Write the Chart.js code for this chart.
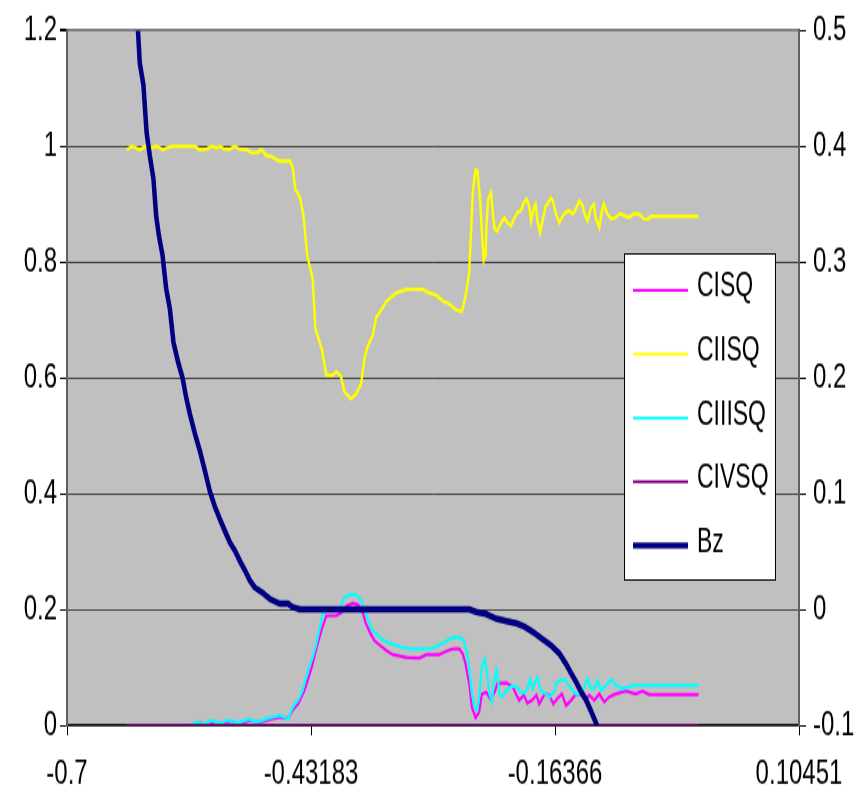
<!DOCTYPE html>
<html>
<head>
<meta charset="utf-8">
<script src="https://cdn.jsdelivr.net/npm/chart.js@4.4.1/dist/chart.umd.min.js"></script>
<style>
  html, body { margin: 0; padding: 0; background: #fff; }
</style>
</head>
<body>
<!-- drawn at 861x560 and shown stretched to 861x801, like the original picture -->
<canvas id="chart" width="861" height="560" style="display:block;width:861px;height:801px"></canvas>
<script>
const xTicks = [-0.7, -0.43183, -0.16366, 0.10451];
const leftTicks = [0, 0.2, 0.4, 0.6, 0.8, 1, 1.2];
const rightTicks = [-0.1, 0, 0.1, 0.2, 0.3, 0.4, 0.5];

const seriesNames = ['CISQ', 'CIISQ', 'CIIISQ', 'CIVSQ', 'Bz'];

const cisqX = [-0.634, -0.5595, -0.554, -0.546, -0.538, -0.530, -0.521, -0.510, -0.499, -0.488, -0.477, -0.466,
  -0.457, -0.452, -0.446, -0.439, -0.431, -0.426, -0.420, -0.415, -0.404, -0.398, -0.393, -0.386, -0.380,
  -0.375, -0.372, -0.367, -0.362, -0.356, -0.349, -0.342, -0.327, -0.313, -0.305, -0.291, -0.283, -0.276,
  -0.269, -0.265, -0.262, -0.258, -0.255, -0.251, -0.247, -0.244, -0.239, -0.235, -0.230, -0.227, -0.217,
  -0.210, -0.206, -0.203, -0.198, -0.194, -0.189, -0.184, -0.181, -0.175, -0.170, -0.1655, -0.161, -0.156,
  -0.1515, -0.146, -0.1406, -0.135, -0.130, -0.126, -0.1205, -0.115, -0.1095, -0.104, -0.097, -0.086,
  -0.075, -0.0675, -0.060, -0.006];
const cisqY = [0, 0, 0.004, 0.001, 0.006, 0.002, 0.007, 0.003, 0.008, 0.005, 0.010, 0.014,
  0.012, 0.026, 0.037, 0.060, 0.100, 0.132, 0.166, 0.189, 0.189, 0.195, 0.206, 0.211, 0.208,
  0.195, 0.178, 0.160, 0.146, 0.138, 0.129, 0.122, 0.117, 0.116, 0.122, 0.122, 0.128, 0.132,
  0.132, 0.123, 0.106, 0.072, 0.031, 0.013, 0.023, 0.054, 0.057, 0.046, 0.057, 0.072, 0.073,
  0.066, 0.052, 0.043, 0.052, 0.038, 0.043, 0.052, 0.037, 0.054, 0.052, 0.037, 0.046, 0.054,
  0.034, 0.043, 0.054, 0.052, 0.043, 0.052, 0.043, 0.054, 0.040, 0.049, 0.054, 0.059,
  0.054, 0.059, 0.053, 0.053];

const ciisqX = [-0.634, -0.629, -0.625, -0.620, -0.614, -0.609, -0.601, -0.595, -0.589, -0.584, -0.560,
  -0.554, -0.546, -0.541, -0.535, -0.532, -0.527, -0.521, -0.516, -0.510, -0.502, -0.497, -0.492, -0.486,
  -0.481, -0.474, -0.468, -0.455, -0.452, -0.449, -0.444, -0.440, -0.436, -0.430, -0.427, -0.420, -0.415,
  -0.408, -0.404, -0.399, -0.395, -0.388, -0.383, -0.377, -0.373, -0.370, -0.364, -0.360, -0.356, -0.349,
  -0.338, -0.327, -0.309, -0.302, -0.294, -0.287, -0.280, -0.272, -0.266, -0.263, -0.260, -0.258, -0.256,
  -0.254, -0.251, -0.249, -0.246, -0.244, -0.242, -0.240, -0.239, -0.237, -0.234, -0.232, -0.230, -0.227,
  -0.223, -0.219, -0.216, -0.212, -0.208, -0.205, -0.201, -0.198, -0.195, -0.192, -0.190, -0.187, -0.185,
  -0.183, -0.180, -0.177, -0.174, -0.172, -0.168, -0.166, -0.163, -0.159, -0.155, -0.152, -0.148, -0.144,
  -0.141, -0.137, -0.134, -0.131, -0.128, -0.124, -0.121, -0.119, -0.115, -0.112, -0.110, -0.106, -0.102,
  -0.097, -0.092, -0.088, -0.082, -0.077, -0.071, -0.066, -0.062, -0.058, -0.042, -0.006];
const ciisqY = [0.994, 1.0, 0.998, 0.994, 1.0, 0.997, 1.0, 0.994, 0.998, 1.0, 1.0,
  0.994, 0.996, 1.0, 0.997, 1.0, 0.995, 0.995, 1.0, 0.995, 0.994, 0.989, 0.989, 0.994,
  0.984, 0.982, 0.975, 0.975, 0.965, 0.925, 0.912, 0.880, 0.811, 0.772, 0.685, 0.650, 0.605,
  0.605, 0.611, 0.603, 0.576, 0.564, 0.571, 0.588, 0.633, 0.653, 0.674, 0.705, 0.714, 0.732,
  0.747, 0.753, 0.753, 0.747, 0.743, 0.733, 0.728, 0.717, 0.715, 0.734, 0.760, 0.782, 0.851,
  0.920, 0.960, 0.958, 0.909, 0.851, 0.803, 0.812, 0.863, 0.909, 0.920, 0.886, 0.857, 0.854,
  0.868, 0.877, 0.868, 0.863, 0.877, 0.886, 0.889, 0.903, 0.909, 0.897, 0.872, 0.894, 0.900,
  0.872, 0.851, 0.874, 0.897, 0.900, 0.911, 0.906, 0.886, 0.868, 0.880, 0.886, 0.889, 0.883,
  0.891, 0.906, 0.900, 0.883, 0.872, 0.894, 0.900, 0.877, 0.860, 0.889, 0.900, 0.883, 0.875,
  0.877, 0.884, 0.881, 0.877, 0.884, 0.883, 0.875, 0.874, 0.879, 0.879, 0.879];

const ciiisqX = [-0.634, -0.565, -0.557, -0.549, -0.541, -0.532, -0.523, -0.512, -0.501, -0.490, -0.479, -0.466,
  -0.461, -0.457, -0.452, -0.446, -0.441, -0.435, -0.430, -0.426, -0.422, -0.419, -0.415, -0.406, -0.400,
  -0.395, -0.389, -0.382, -0.3765, -0.373, -0.369, -0.3655, -0.360, -0.3545, -0.347, -0.340, -0.331, -0.320,
  -0.3016, -0.294, -0.287, -0.2815, -0.276, -0.269, -0.264, -0.2606, -0.2577, -0.255, -0.252, -0.249,
  -0.2467, -0.244, -0.241, -0.2387, -0.2357, -0.233, -0.231, -0.228, -0.2266, -0.2247, -0.222, -0.217,
  -0.212, -0.2064, -0.201, -0.197, -0.194, -0.191, -0.188, -0.185, -0.1827, -0.180, -0.177, -0.1735,
  -0.169, -0.164, -0.162, -0.157, -0.1515, -0.146, -0.1406, -0.135, -0.1314, -0.128, -0.124, -0.1205,
  -0.117, -0.113, -0.1076, -0.102, -0.097, -0.0894, -0.078, -0.006];
const ciiisqY = [0, 0, 0.005, 0.002, 0.008, 0.003, 0.009, 0.004, 0.010, 0.006, 0.012, 0.017,
  0.014, 0.010, 0.031, 0.043, 0.060, 0.095, 0.117, 0.140, 0.169, 0.192, 0.198, 0.198, 0.203,
  0.221, 0.226, 0.225, 0.215, 0.198, 0.181, 0.166, 0.158, 0.149, 0.143, 0.139, 0.134, 0.132,
  0.132, 0.136, 0.142, 0.147, 0.151, 0.153, 0.147, 0.126, 0.095, 0.054, 0.031, 0.026,
  0.054, 0.100, 0.115, 0.095, 0.054, 0.040, 0.072, 0.095, 0.083, 0.054, 0.049, 0.060,
  0.067, 0.067, 0.057, 0.056, 0.063, 0.080, 0.063, 0.077, 0.083, 0.063, 0.057, 0.054,
  0.049, 0.060, 0.074, 0.079, 0.077, 0.063, 0.054, 0.054, 0.066, 0.080, 0.063, 0.063,
  0.077, 0.060, 0.069, 0.079, 0.069, 0.063, 0.069, 0.069];

const civsqX = [-0.634, -0.006];
const civsqY = [0, 0];

const bzX = [-0.624, -0.622, -0.620, -0.616, -0.6125, -0.609, -0.605, -0.602, -0.599, -0.595, -0.591,
  -0.587, -0.583, -0.578, -0.573, -0.569, -0.565, -0.5595, -0.554, -0.5485, -0.543, -0.5376, -0.532,
  -0.5266, -0.521, -0.5156, -0.510, -0.5046, -0.499, -0.4937, -0.486, -0.477, -0.466, -0.457, -0.452,
  -0.444, -0.2577, -0.2505, -0.2394, -0.228, -0.217, -0.206, -0.197, -0.188, -0.177, -0.168, -0.159,
  -0.1515, -0.146, -0.1406, -0.135, -0.1296, -0.124, -0.1186, -0.117];
const bzY = [0.53, 0.500, 0.472, 0.453, 0.412, 0.392, 0.372, 0.340, 0.323, 0.306, 0.277,
  0.260, 0.231, 0.214, 0.200, 0.183, 0.169, 0.152, 0.137, 0.120, 0.102, 0.089, 0.078,
  0.068, 0.058, 0.051, 0.042, 0.034, 0.025, 0.019, 0.015, 0.009, 0.005, 0.005, 0.002,
  0, 0, -0.002, -0.004, -0.008, -0.010, -0.012, -0.015, -0.0195, -0.026, -0.031, -0.038,
  -0.047, -0.055, -0.0625, -0.071, -0.078, -0.088, -0.098, -0.101];

const FONT = "'Liberation Sans', Arial, sans-serif";

const toPoints = (xs, ys) => xs.map((x, i) => ({ x: x, y: ys[i] }));
const fmt = (v) => String(parseFloat(Number(v).toFixed(5)));

const plotBackground = {
  id: 'plotBackground',
  beforeDraw(chart) {
    const { ctx, chartArea: a } = chart;
    ctx.save();
    ctx.fillStyle = '#fff';
    ctx.fillRect(0, 0, chart.width, chart.height);
    ctx.fillStyle = '#c0c0c0';
    ctx.fillRect(a.left, a.top, a.right - a.left, a.bottom - a.top);
    ctx.restore();
  },
};

// boxed legend that sits over the plot, as in the original
const boxLegend = {
  id: 'boxLegend',
  afterDraw(chart, args, o) {
    const ctx = chart.ctx;
    ctx.save();
    ctx.fillStyle = '#fff';
    ctx.fillRect(o.left, o.top, o.width, o.height);
    ctx.strokeStyle = '#000';
    ctx.lineWidth = 1;
    ctx.strokeRect(o.left + 0.5, o.top + 0.5, o.width, o.height);
    ctx.font = '23px ' + FONT;
    ctx.textBaseline = 'middle';
    chart.data.datasets.forEach((ds, i) => {
      const y = o.top + o.first + i * o.gap;
      ctx.strokeStyle = ds.borderColor;
      ctx.lineWidth = ds.legendWidth;
      ctx.beginPath();
      ctx.moveTo(o.left + 9, y);
      ctx.lineTo(o.left + 64, y);
      ctx.stroke();
      ctx.fillStyle = '#000';
      ctx.fillText(ds.label, o.left + 73, y - 2);
    });
    ctx.restore();
  },
};

const line = (label, xs, ys, color, width, axis, order, legendWidth) => ({
  label: label,
  data: toPoints(xs, ys),
  borderColor: color,
  borderWidth: width,
  legendWidth: legendWidth,
  yAxisID: axis,
  order: order,
  pointRadius: 0,
  tension: 0,
  fill: false,
});

new Chart(document.getElementById('chart'), {
  type: 'line',
  data: {
    datasets: [
      line(seriesNames[0], cisqX, cisqY, '#ff00ff', 2.2, 'y', 4, 2),
      line(seriesNames[1], ciisqX, ciisqY, '#ffff00', 2.5, 'y', 3, 2),
      line(seriesNames[2], ciiisqX, ciiisqY, '#00ffff', 2.2, 'y', 2, 2),
      line(seriesNames[3], civsqX, civsqY, '#800080', 2, 'y', 1, 2),
      line(seriesNames[4], bzX, bzY, '#000080', 4.5, 'y2', 0, 4.2),
    ],
  },
  options: {
    responsive: false,
    devicePixelRatio: 1,
    animation: false,
    layout: { padding: { top: 19, left: 0, right: 0, bottom: 0 } },
    plugins: {
      legend: { display: false },
      tooltip: { enabled: false },
      boxLegend: { left: 624, top: 177, width: 151, height: 228, first: 26, gap: 44.6 },
    },
    scales: {
      x: {
        type: 'linear',
        position: 'bottom',
        min: xTicks[0],
        max: xTicks[xTicks.length - 1],
        afterBuildTicks: (s) => { s.ticks = xTicks.map((v) => ({ value: v })); },
        afterFit: (s) => { s.height = 53; },
        ticks: { color: '#000', font: { family: FONT, size: 24 }, padding: 13, maxRotation: 0, autoSkip: false, callback: fmt },
        grid: { drawOnChartArea: false, tickLength: 7, tickColor: '#000', lineWidth: 1 },
        border: { color: '#202020', width: 1.5 },
      },
      y: {
        position: 'left',
        min: 0,
        max: 1.2,
        afterBuildTicks: (s) => { s.ticks = leftTicks.map((v) => ({ value: v })); },
        afterFit: (s) => { s.width = 67; },
        ticks: { color: '#000', font: { family: FONT, size: 24 }, padding: 3, callback: fmt },
        grid: {
          color: (c) => (c.tick && c.tick.value === 1.2 ? '#808080' : '#404040'),
          lineWidth: (c) => (c.tick && c.tick.value === 1.2 ? 2 : 1),
          tickLength: 7,
          tickColor: '#000',
        },
        border: { color: '#606060', width: 2 },
      },
      y2: {
        position: 'right',
        min: -0.1,
        max: 0.5,
        afterBuildTicks: (s) => { s.ticks = rightTicks.map((v) => ({ value: v })); },
        afterFit: (s) => { s.width = 62; },
        ticks: { color: '#000', font: { family: FONT, size: 24 }, padding: 7, callback: fmt },
        grid: { drawOnChartArea: false, tickLength: 7, tickColor: '#000' },
        border: { color: '#606060', width: 2 },
      },
    },
  },
  plugins: [plotBackground, boxLegend],
});
</script>
</body>
</html>
